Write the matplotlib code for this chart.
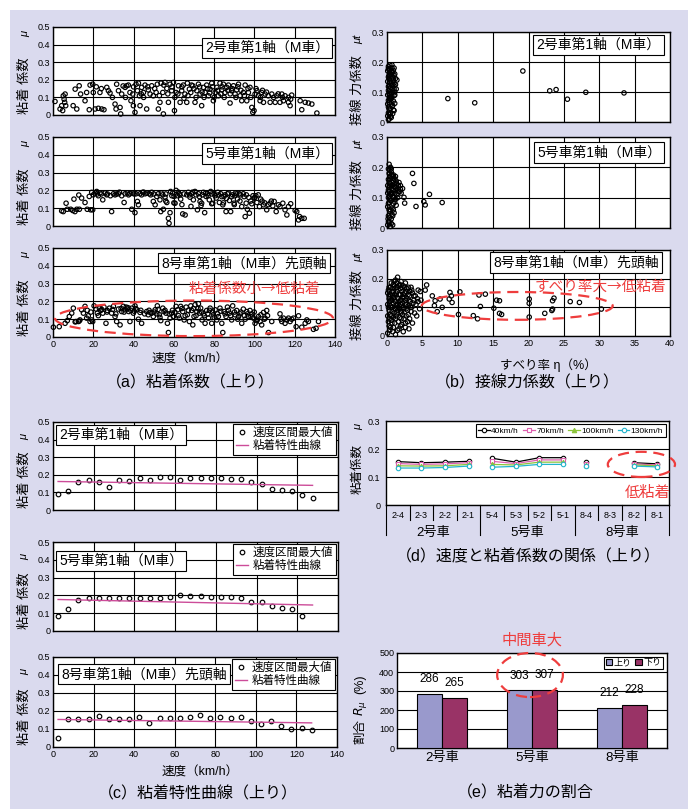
import numpy as np
import matplotlib
matplotlib.use("Agg")
from matplotlib import pyplot as plt
from matplotlib.patches import Ellipse, Rectangle

plt.rcParams['font.family'] = ['Liberation Sans', 'Noto Sans CJK JP', 'DejaVu Sans']

# ---- data ----
# (a) adhesion coefficient vs speed (km/h, mu)
a2_pts = [(1.0,0.077),(3.5,0.034),(4.3,0.053),(5.1,0.109),(5.5,0.09),(5.8,0.072),(6.0,0.119),(6.3,0.053),(4.8,0.025),
          (10.0,0.053),(11.0,0.147),(13.0,0.166),(11.8,0.034),(13.7,0.119),(15.9,0.081),(16.7,0.128),(18.0,0.03),
          (18.4,0.17),(19.7,0.175),(20.0,0.128),(20.9,0.034),(22.5,0.038),(23.3,0.128),(24.2,0.034),(25.3,0.03),
          (26.7,0.157),(27.5,0.138),(28.3,0.125),(30.8,0.062),(31.3,0.034),(31.6,0.175),(32.5,0.138),(33.3,0.043),
          (33.6,0.006),(34.1,0.119),(35.8,0.157),(36.6,0.166),(37.4,0.17),(38.2,0.128),(38.7,0.081),(39.6,0.119),
          (39.9,0.053),(40.7,0.015),(41.2,0.175),(41.9,0.138),(42.4,0.181),(42.9,0.109),(43.2,0.053),(44.0,0.157),
          (44.9,0.128),(45.7,0.17),(46.5,0.034),(47.3,0.143),(48.2,0.119),(49.0,0.166),(49.8,0.109),(51.2,0.128),
          (51.8,0.175),(52.3,0.034),(53.1,0.072),(53.6,0.181),(54.5,0.128),(54.8,0.006),(55.6,0.185),(56.5,0.151),
          (57.3,0.072),(58.1,0.175),(58.9,0.138),(59.8,0.185),(60.3,0.025),(61.1,0.128),(62.3,0.166),(63.1,0.072),
          (63.9,0.138),(64.7,0.17),(65.5,0.119),(66.4,0.072),(66.7,0.181),(67.7,0.147),(68.4,0.128),(69.4,0.166),
          (70.5,0.072),(71.4,0.138),(72.2,0.175),(73.0,0.119),(73.8,0.053),(74.7,0.157),(75.5,0.128),(76.3,0.17),
          (77.2,0.109),(78.0,0.147),(78.8,0.181),(79.6,0.081),(80.5,0.128),(81.3,0.157),(82.1,0.109),(82.9,0.181),
          (83.8,0.143),(84.6,0.175),(85.4,0.128),(86.3,0.157),(87.1,0.17),(87.9,0.068),(88.7,0.138),(89.6,0.166),
          (90.4,0.119),(91.2,0.143),(92.1,0.175),(92.9,0.109),(93.7,0.081),(94.5,0.128),(95.4,0.17),(96.2,0.081),
          (97.0,0.128),(97.8,0.157),(98.7,0.043),(99.2,0.015),(99.8,0.025),(100.3,0.119),(101.2,0.138),(102.0,0.109),
          (102.8,0.081),(103.6,0.128),(104.5,0.072),(105.3,0.119),(106.9,0.109),(107.8,0.072),(108.6,0.119),
          (110.3,0.072),(111.1,0.109),(112.7,0.072),(113.6,0.119),(114.4,0.081),(115.2,0.109),(116.9,0.072),
          (117.7,0.053),(118.5,0.113),(122.7,0.081),(123.5,0.03),(125.2,0.072),(126.8,0.068),(128.5,0.062),(131.0,0.011),
          (21.5,0.16),(24.0,0.15),(29.5,0.1),(34.8,0.165),(36.0,0.1),(40.0,0.16),(43.8,0.12),(45.0,0.1),(47.0,0.16),
          (50.5,0.15),(52.8,0.11),(55.0,0.17),(57.0,0.12),(59.0,0.16),(60.5,0.1),(62.0,0.12),(64.0,0.16),(65.0,0.095),
          (67.0,0.11),(68.8,0.17),(70.0,0.15),(71.0,0.1),(72.8,0.16),(74.0,0.13),(75.0,0.1),(76.8,0.15),(77.8,0.125),
          (79.2,0.16),(80.0,0.1),(81.8,0.14),(83.3,0.12),(84.0,0.16),(85.0,0.1),(86.8,0.14),(88.0,0.12),(89.0,0.15),
          (90.8,0.1),(91.8,0.16),(93.3,0.14),(95.0,0.11),(96.8,0.15),(98.2,0.1),(100.8,0.15),(103.0,0.1),(104.0,0.14),
          (106.0,0.13),(109.5,0.1),(111.8,0.12),(114.0,0.1),(117.0,0.1),(118.0,0.09)]

a5_pts = [(4.3,0.085),(5.1,0.081),(6.5,0.128),(7.1,0.094),(8.8,0.094),(9.8,0.087),(10.4,0.151),(10.9,0.081),
          (11.8,0.094),(12.8,0.174),(13.1,0.094),(14.2,0.157),(15.9,0.132),(17.0,0.094),(18.0,0.166),(18.7,0.091),
          (19.2,0.189),(19.7,0.091),(20.0,0.175),(20.9,0.185),(21.7,0.194),(22.5,0.17),(23.3,0.185),(24.7,0.147),
          (25.8,0.185),(26.7,0.175),(29.1,0.081),(30.0,0.181),(30.8,0.175),(32.5,0.181),(34.1,0.17),(35.3,0.132),
          (35.8,0.181),(36.9,0.185),(38.2,0.181),(39.1,0.094),(39.9,0.185),(40.7,0.075),(41.2,0.181),(41.9,0.138),
          (42.4,0.119),(43.2,0.181),(44.5,0.189),(45.7,0.181),(46.5,0.185),(47.8,0.181),(49.0,0.189),(49.8,0.138),
          (50.7,0.119),(51.5,0.166),(52.3,0.181),(53.1,0.147),(53.5,0.081),(54.5,0.175),(54.8,0.094),(55.6,0.162),
          (56.5,0.132),(57.3,0.043),(57.6,0.015),(58.1,0.075),(58.4,0.194),(59.4,0.185),(60.1,0.166),(60.6,0.128),
          (61.1,0.2),(61.8,0.17),(62.7,0.181),(63.4,0.151),(64.4,0.068),(65.6,0.062),(66.4,0.175),(67.2,0.189),
          (68.0,0.162),(68.9,0.181),(69.7,0.147),(70.5,0.194),(71.7,0.091),(72.2,0.181),(73.0,0.138),(73.8,0.128),
          (74.7,0.189),(75.3,0.075),(76.0,0.166),(76.7,0.181),(77.6,0.147),(78.3,0.194),(79.3,0.128),(80.0,0.181),
          (81.0,0.157),(81.8,0.189),(82.6,0.132),(83.3,0.181),(84.3,0.119),(84.9,0.166),(85.9,0.081),(86.6,0.181),
          (87.6,0.143),(88.2,0.081),(89.2,0.175),(89.9,0.128),(90.6,0.185),(91.6,0.151),(92.5,0.181),(93.7,0.109),
          (94.5,0.181),(95.4,0.053),(95.9,0.128),(96.5,0.094),(97.5,0.072),(98.7,0.125),(99.8,0.157),(100.7,0.17),
          (101.2,0.132),(102.5,0.109),(103.1,0.151),(104.5,0.119),(106.1,0.091),(107.8,0.128),(109.1,0.113),
          (109.8,0.138),(110.8,0.081),(111.9,0.119),(112.7,0.109),(114.1,0.128),(115.2,0.091),(116.1,0.062),
          (116.9,0.109),(118.0,0.125),(120.2,0.087),(121.0,0.081),(121.9,0.034),(122.4,0.053),(123.5,0.043),(124.7,0.043),
          (22.0,0.18),(24.0,0.18),(27.0,0.18),(28.5,0.17),(31.5,0.18),(33.0,0.19),(37.5,0.175),(40.3,0.18),(44.0,0.175),
          (45.0,0.19),(48.5,0.175),(50.0,0.18),(53.8,0.185),(56.0,0.18),(59.0,0.17),(62.2,0.19),(63.0,0.175),(65.0,0.18),
          (67.8,0.175),(69.3,0.19),(71.0,0.175),(72.7,0.165),(74.2,0.175),(75.8,0.185),(77.0,0.17),(78.8,0.18),
          (80.5,0.17),(82.2,0.175),(83.8,0.165),(85.4,0.175),(86.1,0.155),(87.2,0.185),(88.7,0.165),(90.2,0.17),
          (91.2,0.18),(93.1,0.175),(94.9,0.165),(96.0,0.175),(97.2,0.16),(98.2,0.14),(99.3,0.17),(100.2,0.16),
          (101.9,0.175),(103.8,0.14),(105.1,0.13),(106.9,0.12),(108.4,0.14),(56.0,0.14),(60.0,0.13),(64.0,0.12),
          (68.5,0.11),(73.5,0.115),(78.8,0.125),(84.6,0.13),(90.0,0.12),(92.8,0.14)]

a8_pts = [(0.2,0.055),(3.1,0.058),(6.0,0.077),(7.1,0.092),(8.1,0.115),(9.3,0.134),(10.1,0.162),(11.4,0.087),
          (12.6,0.087),(13.4,0.096),(14.2,0.153),(15.1,0.134),(15.9,0.172),(16.7,0.106),(17.5,0.119),(18.4,0.087),
          (19.2,0.096),(19.7,0.087),(20.4,0.175),(21.4,0.157),(22.0,0.134),(23.0,0.162),(23.7,0.149),(24.7,0.134),
          (25.3,0.168),(26.3,0.077),(27.0,0.149),(28.0,0.162),(29.1,0.134),(30.0,0.172),(30.8,0.115),(31.6,0.087),
          (32.5,0.157),(33.3,0.068),(34.1,0.143),(34.9,0.172),(35.8,0.153),(36.3,0.168),(36.9,0.157),(37.6,0.143),
          (38.2,0.087),(39.1,0.162),(39.9,0.134),(40.7,0.175),(41.6,0.153),(42.4,0.1),(43.2,0.138),(44.0,0.077),
          (46.5,0.143),(47.3,0.125),(48.2,0.138),(49.0,0.134),(49.8,0.115),(50.7,0.153),(51.5,0.13),(51.8,0.175),
          (52.8,0.125),(53.5,0.092),(54.5,0.162),(55.1,0.143),(56.1,0.134),(56.8,0.077),(57.3,0.025),(58.1,0.106),
          (58.9,0.134),(59.8,0.115),(61.1,0.172),(61.9,0.153),(62.7,0.106),(63.4,0.172),(64.4,0.143),(65.1,0.096),
          (66.1,0.168),(66.7,0.125),(67.7,0.087),(68.4,0.175),(68.9,0.149),(69.4,0.068),(70.0,0.115),(70.5,0.181),
          (71.4,0.143),(72.2,0.187),(72.7,0.134),(73.3,0.162),(74.0,0.096),(74.7,0.13),(75.5,0.077),(76.3,0.149),
          (77.2,0.106),(78.0,0.162),(78.8,0.077),(79.6,0.125),(80.5,0.153),(81.3,0.096),(82.1,0.115),(82.9,0.162),
          (83.8,0.077),(84.3,0.025),(84.9,0.143),(85.9,0.115),(86.6,0.168),(87.6,0.134),(88.7,0.096),(89.2,0.175),
          (90.4,0.125),(91.2,0.149),(92.1,0.115),(92.9,0.13),(93.7,0.077),(94.5,0.157),(95.4,0.1),(96.2,0.143),
          (97.0,0.115),(97.8,0.149),(98.7,0.13),(99.5,0.106),(100.3,0.077),(101.2,0.092),(102.0,0.115),(102.8,0.087),
          (103.6,0.068),(104.5,0.138),(105.3,0.106),(106.1,0.149),(107.0,0.025),(108.6,0.087),(112.7,0.13),
          (113.6,0.087),(114.4,0.106),(115.2,0.077),(116.1,0.096),(116.9,0.106),(117.7,0.087),(119.4,0.106),
          (120.7,0.058),(121.9,0.119),(123.5,0.055),(125.2,0.077),(126.0,0.096),(126.8,0.087),(129.3,0.043),
          (130.6,0.049),(131.8,0.087),
          (11.0,0.085),(13.0,0.09),(17.0,0.15),(18.8,0.14),(22.5,0.12),(24.2,0.155),(26.8,0.14),(29.6,0.155),
          (31.2,0.13),(33.8,0.16),(35.3,0.14),(37.2,0.165),(38.6,0.15),(40.3,0.145),(41.1,0.16),(43.6,0.15),
          (45.5,0.13),(47.7,0.15),(50.2,0.14),(52.2,0.155),(53.1,0.11),(55.6,0.15),(57.7,0.13),(59.3,0.15),
          (60.5,0.14),(62.3,0.12),(64.0,0.16),(65.6,0.12),(67.2,0.15),(69.7,0.16),(71.0,0.12),(72.0,0.16),
          (73.8,0.14),(75.1,0.12),(76.8,0.13),(77.7,0.15),(79.2,0.14),(80.0,0.11),(81.7,0.13),(83.3,0.145),
          (85.4,0.13),(87.1,0.15),(88.2,0.12),(90.1,0.14),(91.7,0.1),(93.3,0.14),(95.0,0.12),(96.6,0.13),
          (98.3,0.115),(99.9,0.14),(101.5,0.1),(103.2,0.125),(104.9,0.1),(106.5,0.12),(113.2,0.1),(118.5,0.1)]

# (b) tangential force coefficient vs slip ratio (%, mu_t)
b2_pts = [(0.1,0.02),(0.3,0.01),(0.5,0.03),(0.2,0.05),(0.6,0.06),(0.9,0.04),(0.4,0.08),(0.1,0.09),(0.8,0.1),
          (1.0,0.11),(0.3,0.12),(0.6,0.13),(0.2,0.15),(0.9,0.14),(0.5,0.16),(0.1,0.17),(0.7,0.18),(0.4,0.19),
          (1.1,0.16),(0.3,0.175),(0.8,0.165),(0.2,0.105),(0.5,0.115),(0.7,0.085),(0.4,0.14),(1.2,0.125),(0.6,0.095),
          (0.1,0.135),(0.9,0.07),(0.3,0.065),(0.5,0.045),(0.2,0.03),(0.6,0.015),(1.0,0.155),(0.4,0.025),(0.8,0.125),
          (1.3,0.11),(0.2,0.185),(0.6,0.17),(0.3,0.155),(0.7,0.145),(0.4,0.1),(1.1,0.09),(0.1,0.06),(0.5,0.075),
          (0.8,0.055),(1.4,0.14),(1.0,0.18),
          (0.2,0.008),(0.5,0.018),(0.8,0.028),(1.0,0.038),(0.3,0.043),(0.7,0.052),(1.1,0.062),(0.2,0.072),
          (0.6,0.078),(1.0,0.088),(0.3,0.095),(0.7,0.108),(1.1,0.1),(0.2,0.118),(0.6,0.122),(1.0,0.13),
          (0.4,0.132),(0.8,0.15),(0.3,0.145),(1.2,0.145),(0.6,0.158),(0.9,0.172),(0.4,0.165),(0.7,0.19),
          (0.2,0.178),(1.0,0.12),(0.5,0.085),
          (8.6,0.078),(12.4,0.064),(19.2,0.17),(23.0,0.104),(23.9,0.108),(25.5,0.076),(28.1,0.099),(33.5,0.097)]

b5_pts = [(0.1,0.01),(0.3,0.02),(0.5,0.005),(0.8,0.01),(0.2,0.04),(0.6,0.03),(0.4,0.055),(0.1,0.07),(0.7,0.065),
          (1.0,0.05),(0.3,0.085),(0.6,0.09),(0.9,0.08),(1.2,0.095),(0.2,0.1),(0.5,0.11),(0.8,0.105),(1.1,0.115),
          (1.4,0.11),(0.3,0.12),(0.6,0.13),(0.9,0.125),(1.2,0.135),(1.5,0.13),(0.1,0.14),(0.4,0.145),(0.7,0.15),
          (1.0,0.145),(1.3,0.155),(1.6,0.14),(0.2,0.16),(0.5,0.165),(0.8,0.17),(1.1,0.16),(0.3,0.18),(0.6,0.185),
          (0.9,0.175),(0.2,0.195),(0.5,0.2),(0.3,0.21),(1.8,0.12),(2.0,0.115),(1.7,0.15),(0.4,0.095),(1.3,0.075),
          (0.7,0.045),(1.5,0.1),(0.2,0.125),(0.8,0.14),(1.0,0.1),(0.4,0.17),(1.2,0.17),(0.6,0.115),(0.9,0.155),
          (1.1,0.135),(0.5,0.06),(0.15,0.03),
          (0.2,0.02),(0.6,0.015),(0.4,0.035),(0.8,0.04),(0.3,0.06),(0.9,0.06),(0.2,0.08),(0.5,0.09),(1.1,0.085),
          (0.4,0.105),(0.8,0.115),(1.3,0.125),(0.3,0.135),(0.6,0.14),(1.0,0.165),(0.3,0.15),(0.7,0.175),
          (0.4,0.19),(1.4,0.145),(1.6,0.12),(1.9,0.14),(2.2,0.13),(0.6,0.195),(0.1,0.115),(0.9,0.1),
          (3.6,0.18),(3.8,0.147),(1.9,0.128),(2.4,0.101),(2.5,0.082),(4.1,0.071),(5.2,0.087),(5.4,0.076),
          (6.0,0.111),(7.8,0.084)]

b8_pts = [(0.1,0.01),(0.4,0.02),(0.8,0.015),(1.2,0.005),(0.3,0.035),(0.9,0.03),(1.5,0.02),(1.9,0.035),(2.3,0.015),
          (0.2,0.05),(0.6,0.055),(1.1,0.045),(1.6,0.05),(2.1,0.04),(2.6,0.045),(3.1,0.025),(0.1,0.07),(0.5,0.075),
          (0.9,0.065),(1.3,0.07),(1.8,0.065),(2.2,0.075),(2.7,0.07),(3.2,0.06),(3.6,0.045),(0.3,0.09),(0.7,0.085),
          (1.1,0.095),(1.5,0.09),(2.0,0.085),(2.4,0.095),(2.9,0.09),(3.4,0.085),(3.9,0.08),(0.1,0.11),(0.5,0.105),
          (0.9,0.115),(1.3,0.11),(1.7,0.105),(2.2,0.115),(2.6,0.11),(3.0,0.105),(3.5,0.1),(4.1,0.11),(4.6,0.095),
          (0.3,0.13),(0.7,0.125),(1.1,0.135),(1.5,0.13),(1.9,0.125),(2.4,0.135),(2.8,0.13),(3.3,0.12),(3.8,0.125),
          (4.3,0.13),(0.1,0.15),(0.5,0.145),(0.9,0.155),(1.3,0.15),(1.7,0.145),(2.1,0.155),(2.5,0.15),(3.0,0.145),
          (3.6,0.15),(4.4,0.16),(0.3,0.17),(0.7,0.165),(1.1,0.175),(1.5,0.17),(1.9,0.165),(2.3,0.175),(2.8,0.165),
          (3.4,0.17),(0.6,0.185),(1.0,0.19),(1.4,0.185),(1.8,0.18),(2.6,0.185),(1.5,0.205),(0.2,0.16),(0.8,0.14),
          (1.2,0.12),(1.6,0.1),(2.0,0.08),(2.4,0.06),(0.4,0.12),(1.0,0.08),(2.8,0.11),(3.2,0.14),(3.7,0.115),
          (4.0,0.14),(4.8,0.125),(2.2,0.135),(1.4,0.155),(0.6,0.1),(3.0,0.075),(2.6,0.03),(4.2,0.07),(3.5,0.16),
          (4.7,0.155),(1.7,0.025),(0.5,0.03),
          (0.3,0.06),(0.7,0.045),(1.2,0.06),(1.4,0.08),(1.8,0.095),(2.3,0.1),(0.8,0.1),(1.2,0.095),(0.5,0.125),
          (0.9,0.135),(1.7,0.12),(2.1,0.125),(2.6,0.125),(3.1,0.125),(0.3,0.14),(0.7,0.155),(1.1,0.145),
          (1.9,0.145),(2.3,0.145),(2.7,0.155),(3.2,0.155),(0.5,0.17),(0.9,0.18),(1.3,0.17),(1.7,0.175),
          (2.1,0.17),(2.5,0.17),(1.2,0.195),(2.0,0.19),(3.0,0.17),(3.8,0.14),(4.4,0.12),(3.3,0.1),(2.7,0.095),
          (1.9,0.11),(0.2,0.1),(0.6,0.07),(1.5,0.11),(2.0,0.06),(2.9,0.05),
          (5.4,0.16),(5.6,0.178),(6.4,0.14),(6.8,0.123),(6.7,0.106),(7.1,0.085),(7.5,0.129),(7.8,0.1),(8.8,0.129),
          (8.9,0.152),(9.1,0.14),(9.2,0.117),(10.1,0.075),(10.3,0.154),(12.2,0.071),(12.8,0.06),(13.0,0.143),
          (13.2,0.103),(13.9,0.146),(15.1,0.097),(15.5,0.125),(15.9,0.123),(15.9,0.079),(16.2,0.075),(20.1,0.129),
          (20.1,0.114),(20.1,0.066),(22.3,0.079),(23.3,0.089),(23.4,0.094),(23.4,0.123),(23.6,0.132),(25.9,0.12),
          (27.2,0.117),(30.3,0.094)]

# (c) max value per speed interval + adhesion characteristic line
c_speed = [2.5, 7.5, 12.5, 17.5, 22.5, 27.5, 32.5, 37.5, 42.5, 47.5, 52.5, 57.5, 62.5,
           67.5, 72.5, 77.5, 82.5, 87.5, 92.5, 97.5, 102.5, 107.5, 112.5, 117.5, 122.5, 127.5]
c2_mu = [0.089, 0.108, 0.160, 0.170, 0.160, 0.132, 0.170, 0.162, 0.180, 0.168, 0.187, 0.185, 0.170,
         0.180, 0.180, 0.180, 0.180, 0.177, 0.175, 0.160, 0.147, 0.119, 0.115, 0.110, 0.083, 0.066]
c5_mu = [0.084, 0.123, 0.173, 0.188, 0.188, 0.187, 0.187, 0.185, 0.187, 0.186, 0.187, 0.193, 0.202,
         0.194, 0.194, 0.193, 0.191, 0.189, 0.186, 0.164, 0.164, 0.138, 0.132, 0.123, 0.082, np.nan]
c8_mu = [0.048, 0.155, 0.155, 0.158, 0.172, 0.155, 0.156, 0.156, 0.168, 0.132, 0.160, 0.161, 0.160,
         0.166, 0.177, 0.161, 0.166, 0.160, 0.166, 0.142, 0.129, 0.142, 0.114, 0.099, 0.108, 0.097]
fit_speed = [2.5, 127.5]
fit2 = [0.162, 0.140]
fit5 = [0.177, 0.146]
fit8 = [0.153, 0.134]

# (d) adhesion coefficient per axle at each speed
axles = ['2-4', '2-3', '2-2', '2-1', '5-4', '5-3', '5-2', '5-1', '8-4', '8-3', '8-2', '8-1']
groups = ['2号車', '5号車', '8号車']
mu40 = [0.155, 0.151, 0.153, 0.156, 0.167, 0.153, 0.169, 0.169, 0.153, np.nan, 0.151, 0.147]
mu70 = [0.148, 0.145, 0.147, 0.151, 0.156, 0.148, 0.161, 0.161, 0.148, np.nan, 0.147, 0.143]
mu100 = [0.140, 0.139, 0.140, 0.145, 0.145, 0.143, 0.153, 0.153, 0.144, np.nan, 0.143, 0.140]
mu130 = [0.132, 0.132, 0.134, 0.139, 0.135, 0.138, 0.145, 0.145, 0.139, np.nan, 0.139, 0.136]

# (e) ratio of adhesion force
cars = ['2号車', '5号車', '8号車']
ratio_up = [286, 303, 212]
ratio_down = [265, 307, 228]

# ---- figure ----
W, H = 688, 809
fig = plt.figure(figsize=(W / 100, H / 100), dpi=100)
fig.patch.set_facecolor('white')
fig.patches.append(Rectangle((10 / W, 0), 1 - 10 / W, 1 - 10 / H, transform=fig.transFigure,
                             facecolor='#dadaee', edgecolor='none', zorder=-10))

RED = '#ee3d3d'
PINK = '#cc4c99'
CJK = ['Noto Sans CJK JP', 'DejaVu Sans']


def px_axes(l, t, r, b):
    return fig.add_axes([l / W, 1 - b / H, (r - l) / W, (b - t) / H])


def ptext(x, y, s, **kw):
    kw.setdefault('ha', 'center')
    kw.setdefault('va', 'center')
    fig.text(x / W, 1 - y / H, s, **kw)


def fmt(v):
    return '0' if v == 0 else '%g' % v


def style(ax, xmax, xstep, ymax, ystep, show_x):
    ax.set_facecolor('white')
    ax.set_xlim(0, xmax)
    ax.set_ylim(0, ymax)
    xt = np.arange(0, xmax + 1e-9, xstep)
    yt = np.arange(0, ymax + 1e-9, ystep)
    ax.set_xticks(xt)
    ax.set_yticks(yt)
    ax.set_yticklabels([fmt(round(v, 2)) for v in yt])
    if show_x:
        ax.set_xticklabels([fmt(round(v, 2)) for v in xt])
    else:
        ax.set_xticklabels([])
    ax.grid(True, color='black', lw=0.8)
    ax.set_axisbelow(True)
    ax.tick_params(length=0, labelsize=6.5, pad=2)
    for s in ax.spines.values():
        s.set_linewidth(1.0)


def label_box(ax, x, y, s):
    ax.text(x, y, s, transform=ax.transAxes, ha='center', va='center', fontsize=10, zorder=5,
            bbox=dict(boxstyle='square,pad=0.22', fc='white', ec='black', lw=0.8))


def ylab(ax, x, y, s, ymu, mu, fs=9.5):
    ax.text(x, y, s, transform=ax.transAxes, rotation=90, ha='center', va='center', fontsize=fs)
    ax.text(x, ymu, mu, transform=ax.transAxes, rotation=90, ha='center', va='center',
            fontsize=8, fontstyle='italic')


# (a)
a_rects = [(53, 27, 335, 115), (53, 137, 335, 226), (53, 248, 335, 337)]
a_data = [a2_pts, a5_pts, a8_pts]
a_boxes = [(0.76, 0.76, '2号車第1軸（M車）'), (0.76, 0.815, '5号車第1軸（M車）'),
           (0.677, 0.83, '8号車第1軸（M車）先頭軸')]
for i in range(3):
    ax = px_axes(*a_rects[i])
    style(ax, 140, 20, 0.5, 0.1, i == 2)
    x, y = np.array(a_data[i]).T
    ax.scatter(x, y, s=10, facecolors='none', edgecolors='black', linewidths=0.85, zorder=3, clip_on=False)
    label_box(ax, *a_boxes[i])
    ylab(ax, -0.1, 0.33, '粘着 係数', 0.92, 'μ')
    if i == 2:
        ax.add_patch(Ellipse((70, 0.105), 138, 0.2, fill=False, ec=RED, lw=1.6,
                             ls=(0, (5, 3)), clip_on=False, zorder=4))
        ax.text(0.715, 0.54, '粘着係数小→低粘着', transform=ax.transAxes, color=RED,
                fontsize=10.5, ha='center', va='center', family=CJK)
ptext(190, 360, '速度（km/h）', fontsize=9)
ptext(190, 383, '（a）粘着係数（上り）', fontsize=11.5)

# (b)
b_rects = [(387, 32, 670, 122), (387, 137, 670, 228), (387, 250, 670, 336)]
b_data = [b2_pts, b5_pts, b8_pts]
b_boxes = [(0.747, 0.856, '2号車第1軸（M車）'), (0.749, 0.83, '5号車第1軸（M車）'),
           (0.668, 0.855, '8号車第1軸（M車）先頭軸')]
for i in range(3):
    ax = px_axes(*b_rects[i])
    style(ax, 40, 5, 0.3, 0.1, i == 2)
    x, y = np.array(b_data[i]).T
    ax.scatter(x, y, s=10, facecolors='none', edgecolors='black', linewidths=0.85, zorder=3, clip_on=False)
    label_box(ax, *b_boxes[i])
    ylab(ax, -0.102, 0.36, '接線 力係数', 0.92, 'μt')
    if i == 2:
        ax.add_patch(Ellipse((18.4, 0.105), 27, 0.097, fill=False, ec=RED, lw=1.6,
                             ls=(0, (5, 3)), clip_on=False, zorder=4))
        ax.text(0.755, 0.57, 'すべり率大→低粘着', transform=ax.transAxes, color=RED,
                fontsize=10.5, ha='center', va='center', family=CJK)
ptext(548, 365, 'すべり率 η（%）', fontsize=9)
ptext(527, 383, '（b）接線力係数（上り）', fontsize=11.5)

# (c)
c_rects = [(53, 422, 338, 510), (53, 542, 338, 631), (53, 657, 337, 747)]
c_data = [(c2_mu, fit2), (c5_mu, fit5), (c8_mu, fit8)]
c_boxes = [(0.239, 0.852, '2号車第1軸（M車）'), (0.239, 0.787, '5号車第1軸（M車）'),
           (0.32, 0.81, '8号車第1軸（M車）先頭軸')]
for i in range(3):
    ax = px_axes(*c_rects[i])
    style(ax, 140, 20, 0.5, 0.1, i == 2)
    mu, fit = c_data[i]
    ax.plot(c_speed, mu, 'o', ms=3.3, mfc='none', mec='black', mew=0.85, zorder=3, label='速度区間最大値')
    ax.plot(fit_speed, fit, '-', color=PINK, lw=1.0, zorder=3, label='粘着特性曲線')
    label_box(ax, *c_boxes[i])
    leg = ax.legend(loc='upper right', bbox_to_anchor=(1.0, 1.0), fontsize=8.3, frameon=True,
                    fancybox=False, edgecolor='black', framealpha=1, borderaxespad=0.15,
                    handlelength=1.1, handletextpad=0.4, borderpad=0.25, labelspacing=0.15)
    leg.get_frame().set_linewidth(0.8)
    ylab(ax, -0.1, 0.34, '粘着 係数', 0.83, 'μ')
ptext(200, 773, '速度（km/h）', fontsize=9)
ptext(198, 794, '（c）粘着特性曲線（上り）', fontsize=11.5)

# (d)
ax = px_axes(386, 421, 669, 505)
ax.set_facecolor('white')
ax.set_xlim(-0.5, len(axles) - 0.5)
ax.set_ylim(0, 0.3)
ax.set_yticks([0, 0.1, 0.2, 0.3])
ax.set_yticklabels(['0', '0.1', '0.2', '0.3'])
ax.set_xticks(range(len(axles)))
ax.set_xticklabels(axles)
ax.tick_params(length=0, labelsize=6.5, pad=4)
ax.grid(True, axis='y', color='black', lw=0.8)
ax.set_axisbelow(True)
series = [(mu40, '40km/h', 'black', 'o', 'white'), (mu70, '70km/h', '#dd5fae', 's', 'white'),
          (mu100, '100km/h', '#8cc43a', '^', '#8cc43a'), (mu130, '130km/h', '#22b4cc', 'o', 'white')]
for vals, lab, col, mk, mfc in series:
    vals = np.array(vals)
    for g in range(3):
        idx = np.arange(g * 4, g * 4 + 4)
        ax.plot(idx, vals[idx], '-', marker=mk, color=col, mfc=mfc, mec=col, ms=3.2, mew=0.8, lw=0.9,
                label=lab if g == 0 else None, zorder=3)
leg = ax.legend(loc='upper right', ncol=4, fontsize=6, frameon=True, fancybox=False, edgecolor='black',
                framealpha=1, borderaxespad=0.4, handlelength=1.4, handletextpad=0.15, columnspacing=0.5,
                borderpad=0.3)
leg.get_frame().set_linewidth(0.8)
tr = ax.get_xaxis_transform()
for b in range(len(axles) + 1):
    y0 = -0.36 if b % 4 == 0 else -0.18
    ax.plot([b - 0.5, b - 0.5], [0, y0], color='black', lw=0.8, transform=tr, clip_on=False)
for g, name in enumerate(groups):
    ax.text(g * 4 + 1.5, -0.33, name, transform=tr, ha='center', va='center', fontsize=9.5)
ax.add_patch(Ellipse((10.33, 0.145), 2.85, 0.09, fill=False, ec=RED, lw=1.6, ls=(0, (5, 3)),
                     clip_on=False, zorder=4))
ax.text(10.6, 0.043, '低粘着', color=RED, fontsize=11, ha='center', va='center', family=CJK)
ax.text(-0.099, 0.43, '粘着係数', transform=ax.transAxes, rotation=90, ha='center', va='center', fontsize=9)
ax.text(-0.099, 0.93, 'μ', transform=ax.transAxes, rotation=90, ha='center', va='center', fontsize=8,
        fontstyle='italic')
for s in ax.spines.values():
    s.set_linewidth(1.0)
ptext(528, 557, '（d）速度と粘着係数の関係（上り）', fontsize=11.5)

# (e)
ax = px_axes(397, 653, 667, 748)
ax.set_facecolor('white')
xpos = np.arange(len(cars))
bw = 0.28
bu = ax.bar(xpos - bw / 2, ratio_up, bw, color='#9999cc', edgecolor='black', lw=0.8, label='上り', zorder=3)
bd = ax.bar(xpos + bw / 2, ratio_down, bw, color='#993366', edgecolor='black', lw=0.8, label='下り', zorder=3)
for bars in (bu, bd):
    for r in bars:
        ax.annotate('%d' % r.get_height(), (r.get_x() + r.get_width() / 2, r.get_height()),
                    xytext=(0, 6), textcoords='offset points', ha='center', va='bottom', fontsize=8.5)
ax.set_xlim(-0.5, 2.5)
ax.set_ylim(0, 500)
ax.set_yticks(range(0, 501, 100))
ax.set_xticks(xpos)
ax.set_xticklabels(cars, fontsize=9.5)
ax.tick_params(axis='y', length=0, labelsize=6.5, pad=2)
ax.tick_params(axis='x', length=0, pad=3)
ax.grid(True, axis='y', color='black', lw=0.8)
ax.set_axisbelow(True)
for s in ax.spines.values():
    s.set_linewidth(1.0)
leg = ax.legend(loc='upper right', ncol=2, fontsize=6.5, frameon=True, fancybox=False, edgecolor='black',
                framealpha=1, borderaxespad=0.4, handlelength=0.7, handleheight=0.7, handletextpad=0.2,
                columnspacing=0.4, borderpad=0.2)
leg.get_frame().set_linewidth(0.8)
ax.add_patch(Ellipse((0.978, 384), 0.73, 232, fill=False, ec=RED, lw=1.6, ls=(0, (5, 3)),
                     clip_on=False, zorder=4))
ax.text(-0.137, 0.17, '割合', transform=ax.transAxes, rotation=90, ha='center', va='center', fontsize=9)
ax.text(-0.137, 0.42, '$R_{\\mu}$', transform=ax.transAxes, rotation=90, ha='center', va='center', fontsize=9)
ax.text(-0.137, 0.67, '(%)', transform=ax.transAxes, rotation=90, ha='center', va='center', fontsize=9)
ptext(532, 640, '中間車大', fontsize=11, color=RED)
ptext(525, 793, '（e）粘着力の割合', fontsize=11.5)

fig.savefig('out.png', dpi=100, facecolor=fig.get_facecolor())
